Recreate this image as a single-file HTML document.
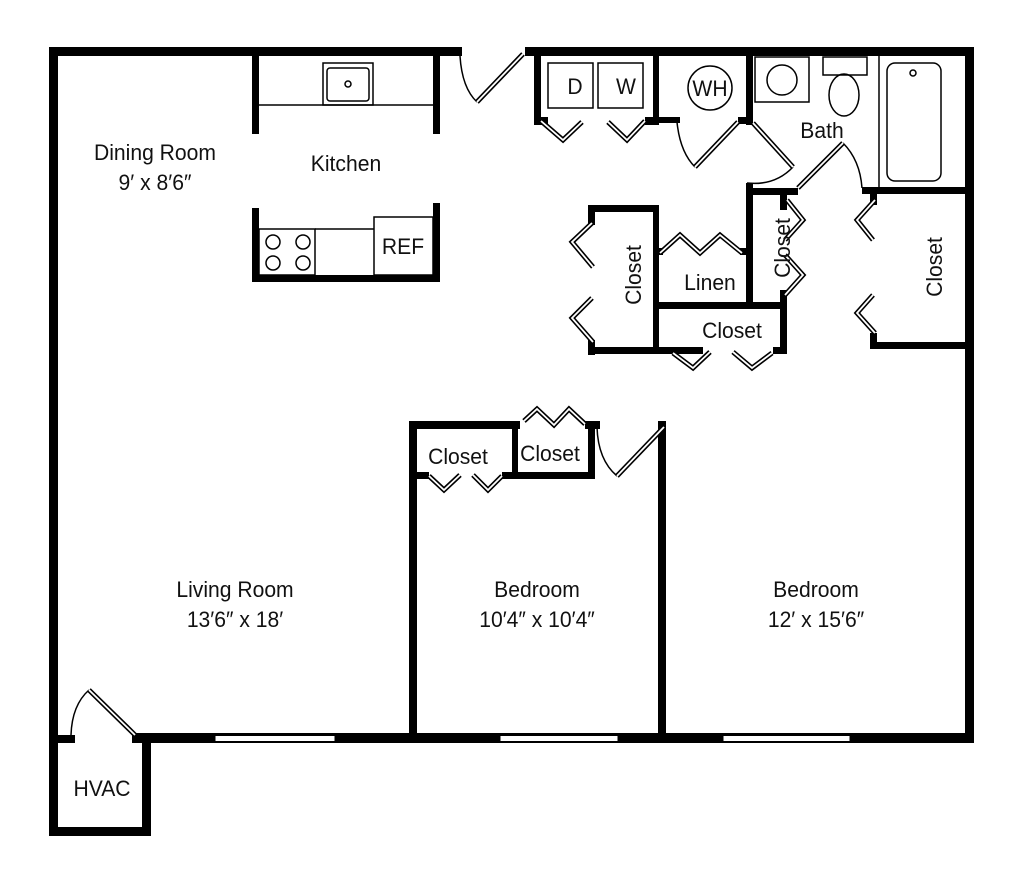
<!DOCTYPE html>
<html><head><style>
html,body{margin:0;padding:0;background:#fff;}
svg{display:block;}
text{font-family:"Liberation Sans Narrow","Liberation Sans",sans-serif;font-size:22px;fill:#111;text-anchor:middle;}
.c{transform-box:fill-box;transform-origin:center;transform:scaleX(0.96);}
</style></head><body>
<svg width="1024" height="885" viewBox="0 0 1024 885" xmlns="http://www.w3.org/2000/svg">
<g fill="#000">
<rect x="49" y="47" width="413" height="9"/>
<rect x="525" y="47" width="449" height="9"/>
<rect x="49" y="47" width="9" height="789"/>
<rect x="965" y="47" width="9" height="696"/>
<rect x="132" y="733" width="842" height="10"/>
<rect x="49" y="735" width="26" height="8"/>
<rect x="142" y="735" width="9" height="101"/>
<rect x="49" y="827" width="102" height="9"/>
<rect x="252" y="47" width="7" height="87"/>
<rect x="433" y="47" width="7" height="87"/>
<rect x="252" y="208" width="7" height="74"/>
<rect x="433" y="203" width="7" height="79"/>
<rect x="252" y="275" width="188" height="7"/>
<rect x="534" y="47" width="7" height="78"/>
<rect x="534" y="117" width="14" height="8"/>
<rect x="645" y="117" width="14" height="8"/>
<rect x="653" y="47" width="6" height="78"/>
<rect x="653" y="117" width="27" height="6"/>
<rect x="746" y="47" width="7" height="78"/>
<rect x="738" y="117" width="15" height="7"/>
<rect x="746" y="183" width="7" height="126"/>
<rect x="746" y="188" width="52" height="7"/>
<rect x="862" y="187" width="112" height="7"/>
<rect x="870" y="187" width="7" height="18"/>
<rect x="870" y="333" width="7" height="16"/>
<rect x="870" y="342" width="104" height="7"/>
<rect x="588" y="205" width="71" height="7"/>
<rect x="588" y="205" width="7" height="20"/>
<rect x="588" y="340" width="7" height="15"/>
<rect x="588" y="347" width="115" height="7"/>
<rect x="653" y="205" width="6" height="149"/>
<rect x="653" y="248" width="10" height="7"/>
<rect x="740" y="248" width="10" height="7"/>
<rect x="653" y="302" width="134" height="7"/>
<rect x="780" y="188" width="7" height="22"/>
<rect x="780" y="290" width="7" height="64"/>
<rect x="773" y="347" width="14" height="7"/>
<rect x="409" y="421" width="8" height="322"/>
<rect x="409" y="421" width="111" height="8"/>
<rect x="512" y="421" width="6" height="58"/>
<rect x="409" y="472" width="20" height="7"/>
<rect x="502" y="472" width="93" height="7"/>
<rect x="588" y="421" width="7" height="58"/>
<rect x="585" y="421" width="15" height="8"/>
<rect x="658" y="421" width="8" height="322"/>
</g>
<g fill="#fff" stroke="#000" stroke-width="1">
<rect x="215" y="735.5" width="120" height="6"/>
<rect x="500" y="735.5" width="118" height="6"/>
<rect x="723" y="735.5" width="127" height="6"/>
</g>
<g fill="none" stroke="#000" stroke-width="1.5">
<line x1="259" y1="105" x2="433" y2="105"/>
<rect x="323" y="63" width="50" height="42"/>
<rect x="327" y="68" width="42" height="33" rx="3"/>
<circle cx="348" cy="84" r="3"/>
<rect x="259" y="229" width="56" height="46"/>
<line x1="315" y1="229" x2="374" y2="229"/>
<rect x="374" y="217" width="59" height="58"/>
<circle cx="273" cy="242" r="7"/><circle cx="303" cy="242" r="7"/>
<circle cx="273" cy="263" r="7"/><circle cx="303" cy="263" r="7"/>
<rect x="548" y="63" width="45" height="45"/>
<rect x="598" y="63" width="45" height="45"/>
<circle cx="710" cy="88" r="22"/>
<rect x="755" y="57" width="54" height="45"/>
<circle cx="782" cy="80" r="15"/>
<rect x="823" y="57" width="44" height="18"/>
<ellipse cx="844" cy="95" rx="15" ry="21"/>
<line x1="879" y1="56" x2="879" y2="188"/>
<rect x="887" y="63" width="54" height="118" rx="8"/>
<circle cx="913" cy="73" r="3"/>
<path d="M460 56 Q462 88 477 102"/>
<path d="M677 122 Q680 152 695 167"/>
<path d="M793 167 Q775 186 747 183"/>
<path d="M843 143 Q860 160 862 188"/>
<path d="M597 427 Q598 460 617 476"/>
<path d="M71 735 Q72 705 89 690"/>
</g>
<g fill="none" stroke-linejoin="miter" stroke-linecap="butt">
<g stroke="#000" stroke-width="5">
<path d="M477 102 L523 54"/>
<path d="M695 167 L738 122"/>
<path d="M753 123 L793 167"/>
<path d="M798 188 L843 143"/>
<path d="M617 476 L664 427"/>
<path d="M135 735 L89 690"/>
<path d="M541 121 L563 140 L582 122"/>
<path d="M608 122 L627 140 L645 121"/>
<path d="M592 223 L572 242 L593 267"/>
<path d="M592 298 L572 318 L593 342"/>
<path d="M660 253 L680 235 L700 253 L720 235 L742 253"/>
<path d="M787 200 L803 220 L785 240"/>
<path d="M785 255 L803 275 L785 295"/>
<path d="M673 353 L693 368 L710 352"/>
<path d="M733 352 L752 368 L772 353"/>
<path d="M875 200 L857 220 L873 240"/>
<path d="M873 295 L857 313 L875 333"/>
<path d="M524 421 L537 409 L554 425 L569 409 L585 424"/>
<path d="M429 476 L444 490 L460 475"/>
<path d="M473 475 L488 490 L502 476"/>
</g>
<g stroke="#fff" stroke-width="1.8">
<path d="M477 102 L523 54"/>
<path d="M695 167 L738 122"/>
<path d="M753 123 L793 167"/>
<path d="M798 188 L843 143"/>
<path d="M617 476 L664 427"/>
<path d="M135 735 L89 690"/>
<path d="M541 121 L563 140 L582 122"/>
<path d="M608 122 L627 140 L645 121"/>
<path d="M592 223 L572 242 L593 267"/>
<path d="M592 298 L572 318 L593 342"/>
<path d="M660 253 L680 235 L700 253 L720 235 L742 253"/>
<path d="M787 200 L803 220 L785 240"/>
<path d="M785 255 L803 275 L785 295"/>
<path d="M673 353 L693 368 L710 352"/>
<path d="M733 352 L752 368 L772 353"/>
<path d="M875 200 L857 220 L873 240"/>
<path d="M873 295 L857 313 L875 333"/>
<path d="M524 421 L537 409 L554 425 L569 409 L585 424"/>
<path d="M429 476 L444 490 L460 475"/>
<path d="M473 475 L488 490 L502 476"/>
</g>
</g>
<text class="c" x="155" y="160">Dining Room</text>
<text class="c" x="155" y="190">9′ x 8′6″</text>
<text class="c" x="346" y="171">Kitchen</text>
<text class="c" x="403" y="254">REF</text>
<text class="c" x="575" y="94">D</text>
<text class="c" x="626" y="94">W</text>
<text class="c" x="710" y="96">WH</text>
<text class="c" x="822" y="138">Bath</text>
<text class="c" x="710" y="290">Linen</text>
<text class="c" x="732" y="338">Closet</text>
<text class="c" x="458" y="464">Closet</text>
<text class="c" x="550" y="461">Closet</text>
<text transform="translate(641,275) rotate(-90) scale(0.96,1)">Closet</text>
<text transform="translate(790,248) rotate(-90) scale(0.96,1)">Closet</text>
<text transform="translate(942,267) rotate(-90) scale(0.96,1)">Closet</text>
<text class="c" x="235" y="597">Living Room</text>
<text class="c" x="235" y="627">13′6″ x 18′</text>
<text class="c" x="537" y="597">Bedroom</text>
<text class="c" x="537" y="627">10′4″ x 10′4″</text>
<text class="c" x="816" y="597">Bedroom</text>
<text class="c" x="816" y="627">12′ x 15′6″</text>
<text class="c" x="102" y="796">HVAC</text>
</svg>
</body></html>
